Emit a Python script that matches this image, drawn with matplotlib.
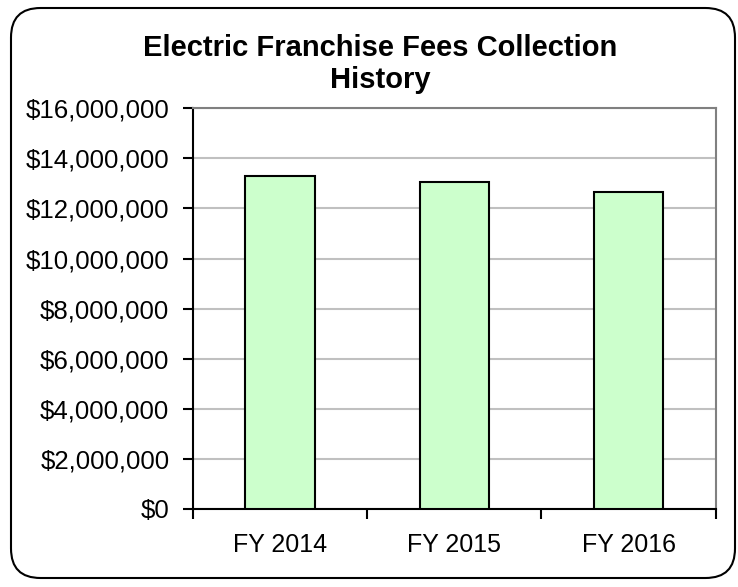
import matplotlib.pyplot as plt
from matplotlib.patches import FancyBboxPatch
from matplotlib.ticker import FuncFormatter

# Data
years = ['FY 2014', 'FY 2015', 'FY 2016']
fees = [13300000, 13050000, 12640000]

plt.rcParams['font.family'] = ['Liberation Sans', 'DejaVu Sans']

fig = plt.figure(figsize=(7.38, 5.87), dpi=100)

# rounded outer chart border
border = FancyBboxPatch((11 / 738, 9 / 587), 724 / 738, 570 / 587,
                        boxstyle='round,pad=0,rounding_size=0.04',
                        transform=fig.transFigure, facecolor='none',
                        edgecolor='black', linewidth=1.5, zorder=10,
                        mutation_aspect=738 / 587)
fig.patches.append(border)

ax = fig.add_axes([193 / 738, 1 - 509 / 587, 522.7 / 738, 400.7 / 587])
x = list(range(len(years)))
ax.bar(x, fees, width=0.4, color='#CCFFCC', edgecolor='black', linewidth=1.5, zorder=3)

ax.set_xlim(-0.5, len(years) - 0.5)
ax.set_ylim(0, 16000000)
ax.set_yticks(range(0, 16000001, 2000000))
ax.yaxis.set_major_formatter(FuncFormatter(lambda v, p: '${:,.0f}'.format(v)))
ax.grid(axis='y', color='#C0C0C0', linewidth=1.5, zorder=0)

# Excel-style category ticks between bars, labels centred under bars
ax.set_xticks([i - 0.5 for i in range(len(years) + 1)])
ax.set_xticklabels([])
ax.set_xticks(x, minor=True)
ax.set_xticklabels(years, minor=True)
ax.tick_params(axis='x', which='minor', length=0, pad=17, labelsize=18)
ax.tick_params(axis='x', which='major', length=7, width=1.5, direction='out')
ax.tick_params(axis='y', length=7, width=1.5, direction='out', labelsize=18.6, pad=10)

for side in ['top', 'right']:
    ax.spines[side].set_color('#808080')
    ax.spines[side].set_linewidth(1.5)
for side in ['left', 'bottom']:
    ax.spines[side].set_color('black')
    ax.spines[side].set_linewidth(1.5)

fig.text(380 / 738, 1 - 48 / 587, 'Electric Franchise Fees Collection',
         ha='center', va='center', fontsize=21, fontweight='bold')
fig.text(380 / 738, 1 - 80 / 587, 'History',
         ha='center', va='center', fontsize=21, fontweight='bold')

fig.savefig('out.png', dpi=100)
